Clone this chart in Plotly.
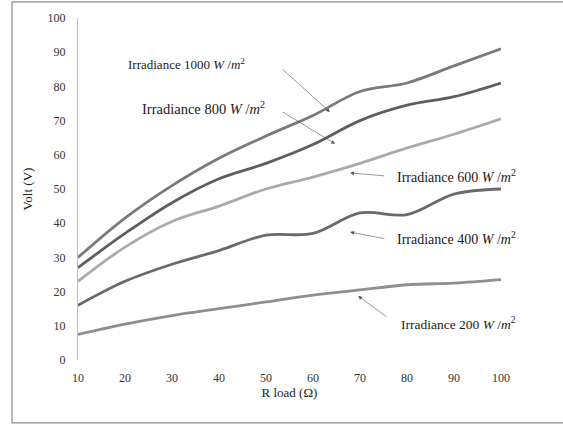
import plotly.graph_objects as go

r_load = [10, 20, 30, 40, 50, 60, 70, 80, 90, 100]
v_1000 = [30, 41.5, 51, 59, 65.5, 71.5, 78.5, 81, 86, 91]
v_800 = [27, 37, 46, 53, 57.5, 63, 70, 74.5, 77, 81]
v_600 = [23, 33, 40.5, 45, 50, 53.5, 57.5, 62, 66, 70.5]
v_400 = [16, 23, 28, 32, 36.5, 37, 43, 42.5, 48.5, 50]
v_200 = [7.5, 10.5, 13, 15, 17, 19, 20.5, 22, 22.5, 23.5]

series = [
    ("1000", v_1000, "#7a7a7a"),
    ("800", v_800, "#5e5e5e"),
    ("600", v_600, "#ababab"),
    ("400", v_400, "#6a6a6a"),
    ("200", v_200, "#8e8e8e"),
]

# label text positions and arrow (tail -> head) positions, in data units
label_names = ["1000", "800", "600", "400", "200"]
label_sizes = [13, 14.5, 14, 14, 13.5]
label_x = [33, 36.8, 90.6, 90.6, 91]
label_y = [86.5, 73.7, 53.8, 35.7, 10.8]
tail_x = [53.2, 53.2, 75.5, 75.5, 76]
tail_y = [85.4, 72.8, 53.8, 35.4, 12.3]
head_x = [63.6, 64.7, 67.9, 67.9, 69.6]
head_y = [72.5, 63.2, 54.7, 37.4, 18.7]

fig = go.Figure()
for name, vals, col in series:
    fig.add_trace(go.Scatter(
        x=r_load, y=vals, mode="lines", name=name,
        line=dict(color=col, width=2.8, shape="spline", smoothing=1.0),
        showlegend=False, hoverinfo="skip"))

serif = "Liberation Serif"
annotations = []
for n, fs, lx, ly, tx, ty, hx, hy in zip(label_names, label_sizes, label_x, label_y,
                                          tail_x, tail_y, head_x, head_y):
    annotations.append(dict(
        x=lx, y=ly, xref="x", yref="y", showarrow=False,
        text=f"Irradiance {n} <i>W</i> /<i>m</i><sup>2</sup>",
        font=dict(family=serif, size=fs, color="#1a1a1a")))
    annotations.append(dict(
        x=hx, y=hy, ax=tx, ay=ty, xref="x", yref="y", axref="x", ayref="y",
        text="", showarrow=True, arrowhead=2, arrowsize=1.3, arrowwidth=0.6,
        arrowcolor="#555"))

fig.update_layout(
    width=563, height=425,
    margin=dict(l=78, r=62, t=18, b=65),
    paper_bgcolor="white", plot_bgcolor="white",
    annotations=annotations,
    shapes=[dict(type="rect", xref="paper", yref="paper",
                 x0=-0.156, x1=1.16, y0=-0.184, y1=1.047,
                 line=dict(color="#8a8a8a", width=1.2), fillcolor="rgba(0,0,0,0)",
                 layer="below")],
    xaxis=dict(range=[10, 100], tickvals=r_load, ticks="outside", ticklen=7,
               tickcolor="rgba(0,0,0,0)", showgrid=False,
               zeroline=False, showline=False,
               tickfont=dict(family=serif, size=12, color="#333"),
               title=dict(text="R load (Ω)", font=dict(family=serif, size=13, color="#222"),
                          standoff=0)),
    yaxis=dict(range=[0, 100], dtick=10, ticks="outside", ticklen=9,
               tickcolor="rgba(0,0,0,0)", showgrid=False, zeroline=False,
               showline=True, linecolor="#bdbdbd", linewidth=1,
               tickfont=dict(family=serif, size=12, color="#333"),
               title=dict(text="Volt (V)", font=dict(family=serif, size=13, color="#222"),
                          standoff=12)),
)

fig.write_html(
    "out.html",
    config={"displayModeBar": False},
    post_script="document.body.style.margin='0';document.body.style.overflow='hidden';",
)
